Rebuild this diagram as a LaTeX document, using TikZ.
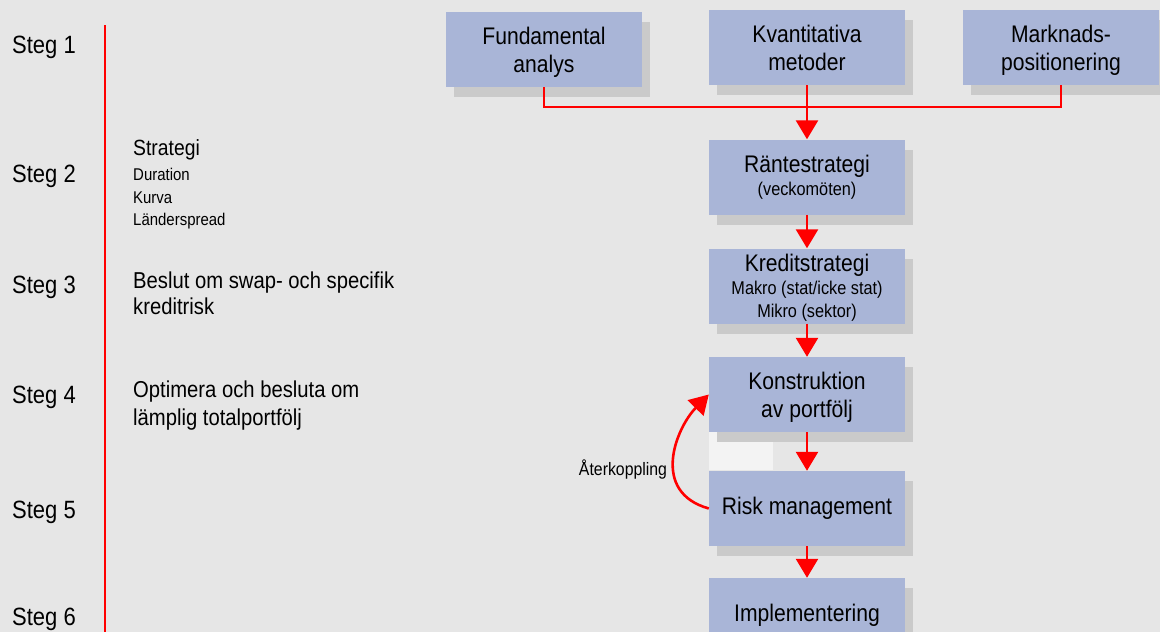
\documentclass[tikz,border=0pt]{standalone}
\usepackage{fontspec}
\setmainfont{Liberation Sans}[FakeStretch=0.88]
\usetikzlibrary{arrows.meta,shadows,positioning}

\definecolor{bggray}{RGB}{230,230,230}
\definecolor{boxblue}{RGB}{169,181,215}
\definecolor{shadegray}{RGB}{202,202,202}
\definecolor{patchgray}{RGB}{243,243,243}

\newcommand{\subfont}{\fontsize{18.5}{23}\selectfont}

\tikzset{
  box/.style={fill=boxblue, minimum width=196pt, minimum height=75pt,
    inner sep=0pt, align=center, font=\fontsize{24}{28}\selectfont,
    general shadow={fill=shadegray, shadow xshift=8pt, shadow yshift=-10pt}},
  link/.style={red, line width=2.6pt},
  flow/.style={link, -{Triangle[width=22pt,length=19pt]}},
  steg/.style={anchor=base west, inner sep=0pt, font=\fontsize{25}{30}\selectfont},
  note/.style={anchor=base west, inner sep=0pt, font=\fontsize{23}{28}\selectfont},
  tinynote/.style={anchor=base west, inner sep=0pt, font=\fontsize{17}{20}\selectfont},
}

\begin{document}
\begin{tikzpicture}[x=1pt,y=-1pt]
\clip (0,0) rectangle (1160,632);
\fill[bggray] (0,0) rectangle (1160,632);

% steps on the left
\draw[red, line width=2.4pt] (105,25) -- (105,632);
\foreach \n/\b in {1/53,2/182,3/293,4/403,5/518,6/625}
    {\node[steg] (steg\n) at (12,\b) {Steg \n};}

\node[note, font=\fontsize{22}{24}\selectfont] (strat) at (133,155) {Strategi};
\foreach \t/\b [count=\i] in {Duration/180,Kurva/203,Länderspread/225}
    {\node[tinynote] (strat\i) at (133,\b) {\t};}
\node[note] (beslut) at (133,288) {Beslut om swap- och specifik};
\node[note] (beslut2) at (133,314) {kreditrisk};
\node[note] (optim) at (133,397) {Optimera och besluta om};
\node[note] (optim2) at (133,425) {lämplig totalportfölj};

% flow boxes
\fill[patchgray] (709,432) rectangle (773,470);
\node[box, text depth=0pt] (fund) at (544,49.5) {Fundamental\\analys};
\node[box, text depth=0pt] (kvant) at (807,47.5) {Kvantitativa\\metoder};
\node[box, text depth=0pt] (mark) at (1061,47.5) {Marknads-\\positionering};

\node[box, font=\fontsize{24}{23}\selectfont] (rante) at (807,177)
    {Räntestrategi\\\subfont (veckomöten)};
\node[box, font=\fontsize{24}{23}\selectfont, text depth=-17pt] (kredit) at (807,286)
    {Kreditstrategi\\\subfont Makro (stat/icke stat)\\\subfont Mikro (sektor)};
\node[box, text depth=-9pt] (konst) at (807,394.5) {Konstruktion\\av portfölj};
\node[box] (risk) at (807,508.5) {Risk management};
\node[box] (impl) at (807,615.5) {Implementering};

% connectors
\coordinate (joint) at (kvant.south |- 0,107);
\draw[link] (fund.south) |- (joint) -| (mark.south);
\draw[link] (kvant.south) -- (joint);
\draw[flow] (joint) -- (rante.north);
\draw[flow] (rante) -- (kredit);
\draw[flow] (kredit) -- (konst);
\draw[flow] (konst) -- (risk);
\draw[flow] (risk) -- (impl);

\draw[flow] (risk.west) .. controls (650,492) and (676,428) .. (konst.west);
\node[font=\fontsize{18}{20}\selectfont] (aterk) at (623,470) {Återkoppling};

\end{tikzpicture}
\end{document}
